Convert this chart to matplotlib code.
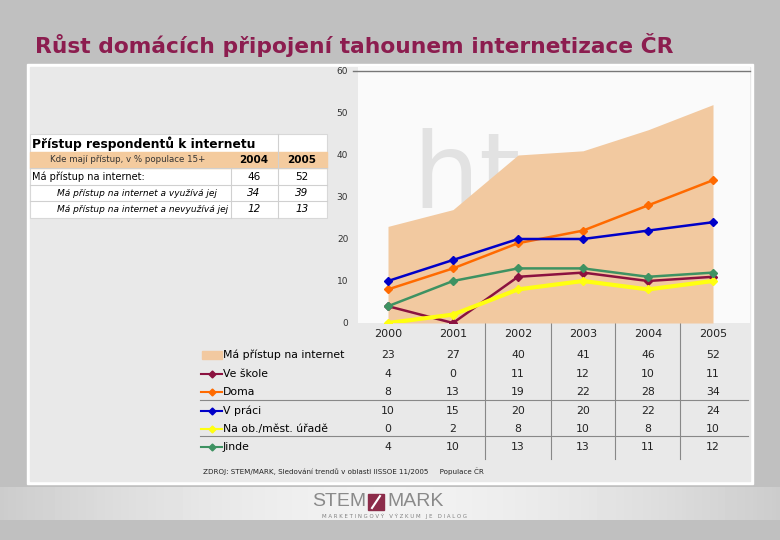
import numpy as np
import matplotlib
matplotlib.use("Agg")
import matplotlib.pyplot as plt
from matplotlib.patches import Rectangle
from matplotlib.lines import Line2D
from matplotlib.transforms import blended_transform_factory

# Data
years = ["2000", "2001", "2002", "2003", "2004", "2005"]
pristup = [23, 27, 40, 41, 46, 52]
ve_skole = [4, 0, 11, 12, 10, 11]
doma = [8, 13, 19, 22, 28, 34]
v_praci = [10, 15, 20, 20, 22, 24]
na_uradu = [0, 2, 8, 10, 8, 10]
jinde = [4, 10, 13, 13, 11, 12]

series_names = ["Ve škole", "Doma", "V práci", "Na ob./měst. úřadě", "Jinde"]
series_values = [ve_skole, doma, v_praci, na_uradu, jinde]
series_colors = ["#8b1240", "#ff6a00", "#0000c8", "#ffff10", "#3e9262"]
area_name = "Má přístup na internet"
area_color = "#f2c9a0"

table_title = "Přístup respondentů k internetu"
table_head = ["Kde mají přístup, v % populace 15+", "2004", "2005"]
table_rows = [["Má přístup na internet:", "46", "52"],
              ["Má přístup na internet a využívá jej", "34", "39"],
              ["Má přístup na internet a nevyužívá jej", "12", "13"]]

title = "Růst domácích připojení tahounem internetizace ČR"
source = "ZDROJ: STEM/MARK, Sledování trendů v oblasti IISSOE 11/2005     Populace ČR"

W, H = 780, 540
logo_font = ["Liberation Sans", "DejaVu Sans"]


def box(x0, y0, x1, y1):
    return [x0 / W, 1 - y1 / H, (x1 - x0) / W, (y1 - y0) / H]


fig = plt.figure(figsize=(7.8, 5.4), dpi=100)
fig.patch.set_facecolor("#c0c0c0")

# pixel-space background layer
bg = fig.add_axes([0, 0, 1, 1])
bg.axis("off")

# footer gradient band
grad = 1 - np.abs(np.linspace(-1, 1, 200)) ** 1.6
bg.imshow((0.80 + 0.15 * grad)[None, :], extent=(0, W, 520, 487),
          cmap="gray", vmin=0, vmax=1, aspect="auto", zorder=0)
bg.set_xlim(0, W)
bg.set_ylim(H, 0)

bg.add_patch(Rectangle((27, 64), 726, 420, color="white", zorder=1))
bg.add_patch(Rectangle((30, 67), 720, 414, color="#e9e9e9", zorder=1))

bg.text(35, 53, title, fontsize=15.7, fontweight="bold", color="#8c1d4f",
        va="baseline", ha="left")

# left info table
bg.add_patch(Rectangle((30, 134), 297, 84, facecolor="white",
                       edgecolor="#d8d8d8", lw=0.8, zorder=2))
bg.add_patch(Rectangle((30, 152), 297, 16, color="#f4cb9e", zorder=3))
for yy in [168, 185, 201]:
    bg.plot([30, 327], [yy, yy], color="#d0d0d0", lw=0.8, zorder=4)
bg.plot([278, 278], [134, 218], color="#d0d0d0", lw=0.8, zorder=4)
bg.plot([231, 231], [168, 218], color="#d0d0d0", lw=0.8, zorder=4)
bg.text(32, 144, table_title, fontsize=8.8, fontweight="bold", va="center",
        zorder=5)
bg.text(128, 160, table_head[0], fontsize=6.2, ha="center", va="center",
        color="#333333", zorder=5)
bg.text(254, 160, table_head[1], fontsize=7.5, fontweight="bold",
        ha="center", va="center", zorder=5)
bg.text(302, 160, table_head[2], fontsize=7.5, fontweight="bold",
        ha="center", va="center", zorder=5)
for i, row in enumerate(table_rows):
    yc = [176.5, 193, 209.5][i]
    style = "normal" if i == 0 else "italic"
    xl = 32 if i == 0 else 57
    fs = 7 if i == 0 else 6.5
    bg.text(xl, yc, row[0], fontsize=fs, style=style, va="center", zorder=5)
    bg.text(254, yc, row[1], fontsize=7.5, style=style, ha="center",
            va="center", zorder=5)
    bg.text(302, yc, row[2], fontsize=7.5, style=style, ha="center",
            va="center", zorder=5)

# chart
ax = fig.add_axes(box(358, 67, 750, 323))
ax.set_facecolor("#fafafa")
x = np.arange(len(years))
ax.set_xlim(-30 / 65, 362 / 65)
ax.set_ylim(0, 256 / 4.2)
for s in ax.spines.values():
    s.set_visible(False)

# faint watermark
ax.text(412, 208, "ht", transform=bg.transData, fontsize=76,
        color="#e2e2e2", zorder=0.5, clip_on=True)

ax.fill_between(x, 0, pristup, color=area_color, lw=0, zorder=1)
order = [3, 4, 0, 1, 2]
for k in order:
    lw = 3 if k == 3 else 1.8
    ax.plot(x, series_values[k], color=series_colors[k], lw=lw, marker="D",
            ms=4.5, zorder=2 + k)

ax.set_yticks(range(0, 61, 10))
ax.set_xticks(x)
ax.set_xticklabels(years)
ax.tick_params(axis="y", length=0, pad=7, labelsize=6.5, labelcolor="#333333")
ax.tick_params(axis="x", length=0, pad=4.5, labelsize=8, labelcolor="#222222")
ax.axhline(60, xmin=-0.013, xmax=1, color="#777777", lw=1, clip_on=False)

# data table under the chart
tr = blended_transform_factory(ax.transData, bg.transData)
row_y = [355, 374, 392, 411, 429, 447]
table_vals = [pristup] + series_values
for r, vals in enumerate(table_vals):
    for i, v in enumerate(vals):
        bg.text(i, row_y[r], str(v), transform=tr, fontsize=7.8,
                ha="center", va="center", color="#222222", zorder=5)
for xs in [1.5, 2.5, 3.5, 4.5]:
    bg.plot([xs, xs], [323, 459], transform=tr, color="#888888", lw=0.8,
            zorder=4)
for yy in [400, 436]:
    bg.plot([200, 748], [yy, yy], color="#888888", lw=0.8, zorder=4)

# legend keys and labels
bg.add_patch(Rectangle((202, 351), 20, 8, color=area_color, zorder=5))
bg.text(223, row_y[0], area_name, fontsize=7.8, va="center", zorder=5)
for k, name in enumerate(series_names):
    yk = row_y[k + 1]
    bg.add_line(Line2D([201, 222], [yk, yk], color=series_colors[k], lw=1.5,
                       zorder=5))
    bg.add_line(Line2D([211.5], [yk], color=series_colors[k], marker="D",
                       ms=3.5, zorder=6))
    bg.text(223, yk, name, fontsize=7.8, va="center", zorder=5)

bg.text(203, 471, source, fontsize=5.1, va="center", color="#222222",
        zorder=5)

# footer logo
bg.text(366, 502, "STEM", fontsize=14, family=logo_font,
        color="#8a8a8a", ha="right", va="center", zorder=5)
bg.add_patch(Rectangle((368, 494), 16, 16, facecolor="#8c2c4a",
                       edgecolor="#8c2c4a", zorder=5))
bg.plot([372, 380], [508, 496], color="white", lw=1.5, zorder=6)
bg.text(387, 502, "MARK", fontsize=14, family=logo_font,
        color="#8a8a8a", ha="left", va="center", zorder=5)
bg.text(394, 516, "M A R K E T I N G O V Ý   V Ý Z K U M   J E   D I A L O G",
        fontsize=3.9, color="#808080", ha="center", va="center", zorder=5)

fig.savefig("out.png", dpi=100, facecolor=fig.get_facecolor())
